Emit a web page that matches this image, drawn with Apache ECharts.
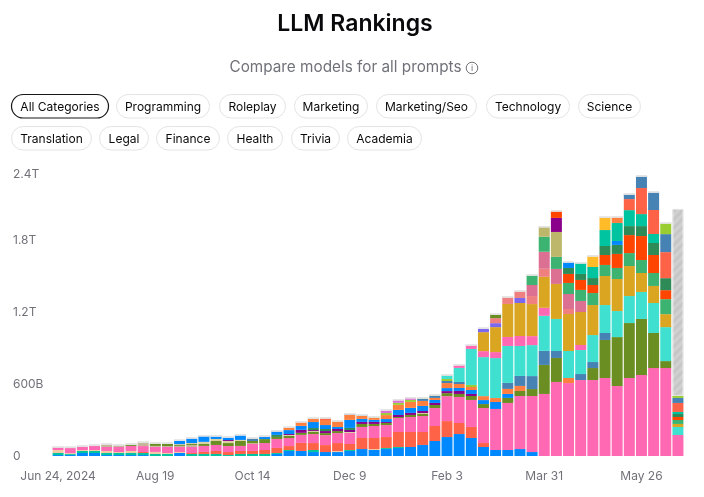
<!DOCTYPE html>
<html><head><meta charset="utf-8"><style>html,body{margin:0;padding:0;background:#fff}#c{width:704px;height:497px}</style>
<script src="https://cdn.jsdelivr.net/npm/echarts@6/dist/echarts.min.js"></script></head><body><div id="c"></div>
<script>
const categories = ["Jun 24, 2024","Jul 1","Jul 8","Jul 15","Jul 22","Jul 29","Aug 5","Aug 12","Aug 19","Aug 26","Sep 2","Sep 9","Sep 16","Sep 23","Sep 30","Oct 7","Oct 14","Oct 21","Oct 28","Nov 4","Nov 11","Nov 18","Nov 25","Dec 2","Dec 9","Dec 16","Dec 23","Dec 30","Jan 6","Jan 13","Jan 20","Jan 27","Feb 3","Feb 10","Feb 17","Feb 24","Mar 3","Mar 10","Mar 17","Mar 24","Mar 31","Apr 7","Apr 14","Apr 21","Apr 28","May 5","May 12","May 19","May 26","Jun 2","Jun 9","Jun 16"];
// values in billions of tokens, stacked bottom to top in this order
const blueLow = [8,8,25,25,8,8,8,8,0,0, 25,0,0,0,0,0,0,0,17,42, 42,33,33,33,42,58,50,58,67,75, 92,125,158,183,150,75,50,50,58,33];
const tealLow = [17,8,17,17,17,17,17,17,17,17, 0,17,17,17,8,17,17,17,8,8, 0,17,0,0,8,0,0,8,8];
const peachLow = [25,8,8,8,17,8,17,0,17,8, 8,0,0,0,0,0,0,0,0,0, 0,0,0,8,0,0,8];
const tomatoLow = [0,0,0,0,0,0,0,8,0,0, 0,8,17,25,25,25,25,33,42,33, 67,58,58,67,50,92,92,92,125,125, 108,125,133,92,92,33];
const pinkMain = [25,42,25,33,33,42,42,50,42,50, 42,50,50,50,50,42,58,58,75,67, 67,75,83,83,92,92,100,100,117,125, 133,150,208,217,225,292,342,392,442,467, 517,617,608,633,633,650,583,650,675,733, 733,175];
const tanMid = [0,8,8,8,17,17,0,25,8,8, 8,17,0,0,0,0,8];
const oliveMain = [0,0,0,0,0,0,8,0,17,17, 8,8,17,33,25,42,17,33,17,17, 17,17,17,17,0,25,17,17,8,17, 17,25,25,25,33,33,0,42,42,58, 242,200,0,0,100,317,408,458,467,292, 58,0];
const creamMid = [0,0,0,0,8,0,8,8,8,8, 8,8,17,17,17,8,0,0,0,8, 0,8,0,0,8,0,0,0,0,0, 8];
const purpleMid = [0,0,0,0,0,0,0,0,0,0, 0,0,0,0,8,0,0,0,0,8, 25,8,17,17,17,17,17,8,17,17, 17,17,17,25,17];
const greenMid = [0,0,0,0,0,0,0,0,0,0, 0,0,0,0,0,0,0,0,17,0, 0,17,17,0,17];
const blueMid = [0,0,0,0,0,0,0,0,0,0, 33,42,50,25,25,42,0,17,25,33, 33,50,33,17,67,25,17,25,42,42, 42,25,25,25,33,33,58,33];
const orangeMid = [0,0,0,0,0,0,0,0,0,0, 0,0,0,0,0,0,0,0,0,25, 33,33,42,50,42,25,17,33,42,50, 42,17,42,33,25,33,33,42,42,0, 0,0,42];
const tomatoMid = [0,0,0,0,0,0,0,0,0,0, 0,0,0,0,0,0,0,8,0,0, 0,0,17];
const steelMid = [0,0,0,0,0,0,0,0,0,0, 0,0,0,0,0,0,17,0,8,0, 0,0,0,0,8,8,0,0,0,0, 17,17,17,17,0,0,0,50,83,108, 117,58,0,50,50,58];
const limeMid = [0,0,0,0,0,0,0,0,0,0, 0,0,0,0,0,0,0,0,0,0, 0,0,0,0,0,0,8,17,17,17, 8,8,17,0,17];
const orchidMid = [0,0,0,0,0,0,0,0,0,0, 0,0,0,0,0,0,0,0,0,0, 0,0,0,0,0,0,0,25,25,17];
const turquoise = [0,0,0,0,0,0,0,0,0,0, 0,0,0,0,0,0,0,0,0,0, 0,0,0,0,0,0,0,0,0,0, 0,0,33,117,300,325,333,308,250,258, 292,267,225,200,225,233,217,225,225,250, 283,67];
const pinkUpper = [0,0,0,0,0,0,0,0,0,0, 0,0,0,0,0,0,0,0,0,0, 0,0,0,0,0,0,0,0,0,0, 0,0,0,25,33,50,50,75,83,75, 67,0,0,42];
const gold = [0,0,0,0,0,0,0,0,0,0, 0,0,0,0,0,0,0,0,0,0, 0,0,0,0,0,0,0,0,0,0, 0,0,0,0,0,158,208,275,275,267, 258,292,308,275,250,242,267,250,158,142, 108,25];
const slate = [0,0,0,0,0,0,0,0,0,0, 0,0,0,0,0,0,0,0,0,0, 0,0,0,0,0,0,0,0,0,0, 0,0,0,0,0,33,33,0,42];
const coral = [0,0,0,0,0,0,0,0,0,0, 0,0,0,0,0,0,0,0,0,0, 0,0,0,0,0,0,0,0,0,0, 0,0,0,0,0,0,42,58,58,67, 67,0,42];
const oliveTop = [0,0,0,0,0,0,0,0,0,0, 0,0,0,0,0,0,0,0,0,0, 0,0,0,0,0,0,0,0,0,0, 0,0,0,0,0,0,33];
const violetRed = [0,0,0,0,0,0,0,0,0,0, 0,0,0,0,0,0,0,0,0,0, 0,0,0,0,0,0,0,0,0,0, 0,0,0,0,0,0,0,0,0,92, 142,125,125,92];
const seaGreen = [0,0,0,0,0,0,0,0,0,0, 0,0,0,0,0,0,0,0,0,0, 0,0,0,0,0,0,0,0,0,0, 0,0,0,0,0,0,0,0,0,83, 125,100,92,92,100,92,92,108,108,108, 125,33];
const khaki = [0,0,0,0,0,0,0,0,0,0, 0,0,0,0,0,0,8,0,0,0, 0,0,0,0,0,0,0,0,0,0, 0,0,0,0,0,0,0,0,0,0, 83,208];
const purpleTop = [0,0,0,0,0,0,0,0,0,0, 0,0,0,0,0,0,0,0,0,0, 0,0,0,0,0,0,0,0,0,0, 0,0,0,0,0,0,0,0,0,0, 0,117];
const orangeRed = [0,0,0,0,0,0,0,0,0,0, 0,0,0,0,0,0,0,0,0,0, 0,0,0,0,0,0,0,0,0,0, 0,0,0,0,0,0,0,0,0,0, 0,58,75,83,67,83,117,150,200,150, 75,25];
const darkGreen = [0,0,0,0,0,0,0,0,0,0, 0,0,0,0,0,0,0,0,0,0, 0,0,0,0,0,0,0,0,0,0, 0,0,0,0,0,0,0,0,0,0, 0,0,50,50,58,75,75,75,83,100, 100,25];
const blueTop = [0,0,0,0,0,0,0,0,0,0, 0,0,0,0,0,0,0,0,0,0, 0,0,0,0,0,0,0,0,0,0, 0,0,0,0,0,0,0,0,0,0, 0,0,50,0,0,0,33];
const tealTop = [0,0,0,0,0,0,0,0,0,0, 0,0,0,0,0,0,0,0,0,0, 0,0,0,0,0,0,0,0,0,0, 0,0,0,0,0,0,0,0,0,0, 0,0,0,92,92,133,150,133,100,75, 0,17];
const orangeTop = [0,0,0,0,0,0,0,0,0,0, 0,0,0,0,0,0,0,0,0,0, 0,0,0,0,0,0,0,0,0,0, 0,0,0,0,0,0,0,0,0,0, 0,0,0,0,0,0,50];
const amber = [0,0,0,0,0,0,0,0,0,0, 0,0,0,0,0,0,0,0,0,0, 0,0,0,0,0,0,0,0,0,0, 0,0,0,0,0,0,0,0,0,0, 0,0,0,0,92,108];
const tomatoTop = [0,0,0,0,0,0,0,0,0,0, 0,0,0,0,0,0,0,0,0,0, 0,0,0,0,0,0,0,0,0,0, 0,0,0,0,0,0,0,0,0,0, 0,0,0,0,0,0,0,92,217,200, 217,75];
const steelTop = [0,0,0,0,0,0,0,0,0,0, 0,0,0,0,0,0,0,0,0,0, 0,0,0,0,0,0,0,0,0,0, 0,0,0,0,0,0,0,0,0,0, 0,0,0,0,0,0,0,42,100,150, 150,42];
const limeTop = [0,0,0,0,0,0,0,0,0,0, 0,0,0,0,0,0,0,0,0,0, 0,0,0,0,0,0,0,0,0,0, 0,0,0,0,0,0,0,0,0,0, 0,0,0,0,0,0,0,0,0,0, 92,17];
const incomplete = [0,0,0,0,0,0,0,0,0,0, 0,0,0,0,0,0,0,0,0,0, 0,0,0,0,0,0,0,0,0,0, 0,0,0,0,0,0,0,0,0,0, 0,0,0,0,0,0,0,0,0,0, 0,1558];

const pillLabels = ["All Categories","Programming","Roleplay","Marketing","Marketing/Seo","Technology","Science","Translation","Legal","Finance","Health","Trivia","Academia"];
const pillBoxes = [[11,94,97],[116,94,93],[219,94,66],[294,94,73],[376,94,100],[486,94,83],[578,94,62],[11,126,80],[99,126,49],[156,126,63],[227,126,55],[291,126,48],[347,126,74]];

const FONT = 'Inter';
const stack = [
 ['blueLow',blueLow,'#0088fe'],['tealLow',tealLow,'#00c49f'],['peachLow',peachLow,'#f3c9a5'],['tomatoLow',tomatoLow,'#ff6347'],
 ['pinkMain',pinkMain,'#ff69b4'],['tanMid',tanMid,'#c4b49a'],['oliveMain',oliveMain,'#6b8e23'],['creamMid',creamMid,'#d9cfa0'],
 ['purpleMid',purpleMid,'#8b008b'],['greenMid',greenMid,'#2e8b57'],['blueMid',blueMid,'#0088fe'],['orangeMid',orangeMid,'#ff7f3f'],
 ['tomatoMid',tomatoMid,'#ff6347'],['steelMid',steelMid,'#4682b4'],['limeMid',limeMid,'#9acd32'],['orchidMid',orchidMid,'#da70d6'],
 ['turquoise',turquoise,'#40e0d0'],['pinkUpper',pinkUpper,'#ff69b4'],['gold',gold,'#daa520'],['slate',slate,'#7b68ee'],
 ['coral',coral,'#f08080'],['oliveTop',oliveTop,'#6b8e23'],['violetRed',violetRed,'#db7093'],['seaGreen',seaGreen,'#3cb371'],
 ['khaki',khaki,'#bdb76b'],['purpleTop',purpleTop,'#8b008b'],['orangeRed',orangeRed,'#ff4500'],['darkGreen',darkGreen,'#2e8b57'],
 ['blueTop',blueTop,'#0088fe'],['tealTop',tealTop,'#00c49f'],['orangeTop',orangeTop,'#ff7f3f'],['amber',amber,'#ffbb28'],
 ['tomatoTop',tomatoTop,'#ff6347'],['steelTop',steelTop,'#4682b4'],['limeTop',limeTop,'#9acd32']
];
const series = stack.map(([name,data,color]) => ({name,type:'bar',stack:'all',data,barWidth:11,itemStyle:{color},emphasis:{disabled:true}}));
series.push({name:'incomplete',type:'bar',stack:'all',data:incomplete,barWidth:11,emphasis:{disabled:true},
  itemStyle:{color:'#d0d0d0',borderColor:'#e4e4e4',borderWidth:1,
  decal:{symbol:'rect',symbolSize:1,dashArrayX:[1,0],dashArrayY:[3,3],rotation:-Math.PI/4,color:'#c6c6c6'}}});

const graphic = [];
pillLabels.forEach((t,i)=>{
  const [x,y,w]=pillBoxes[i], active=i===0;
  graphic.push({type:'rect',shape:{x:x+.5,y:y+.5,width:w,height:23.5,r:12},style:{fill:'#fff',stroke:active?'#18181b':'#e4e4e7',lineWidth:active?1.2:1}});
  graphic.push({type:'text',x:x+w/2+.5,y:y+13,style:{text:t,font:'400 12px '+FONT,fill:'#09090b',align:'center',verticalAlign:'middle'}});
});
graphic.push({type:'text',x:355,y:24,style:{text:'LLM Rankings',font:'600 23px '+FONT,fill:'#09090b',align:'center',verticalAlign:'middle'}});
graphic.push({type:'text',x:345.5,y:67,style:{text:'Compare models for all prompts',font:'400 15.3px '+FONT,fill:'#71717a',align:'center',verticalAlign:'middle'}});
graphic.push({type:'circle',shape:{cx:472,cy:68,r:5.8},style:{fill:'none',stroke:'#71717a',lineWidth:1}});
graphic.push({type:'text',x:472,y:68,style:{text:'i',font:'400 9px '+FONT,fill:'#71717a',align:'center',verticalAlign:'middle'}});

const chart = echarts.init(document.getElementById('c'),null,{renderer:'canvas'});
chart.setOption({
  animation:false,backgroundColor:'#fff',graphic,
  grid:{left:52,right:20,top:168,bottom:41,containLabel:false},
  xAxis:{type:'category',data:categories,axisLine:{show:false},axisTick:{show:false},
    axisLabel:{interval:7,color:'#71717a',fontFamily:FONT,fontSize:12,margin:14,hideOverlap:false}},
  yAxis:{type:'value',min:0,max:2400,interval:600,splitLine:{show:false},axisLine:{show:false},axisTick:{show:false},
    axisLabel:{color:'#71717a',fontFamily:FONT,fontSize:12,align:'left',margin:39,verticalAlignMaxLabel:'top',
      formatter:v=>v===0?'0':(v<1000?v+'B':(v/1000).toFixed(1)+'T')}},
  series
});
</script></body></html>
